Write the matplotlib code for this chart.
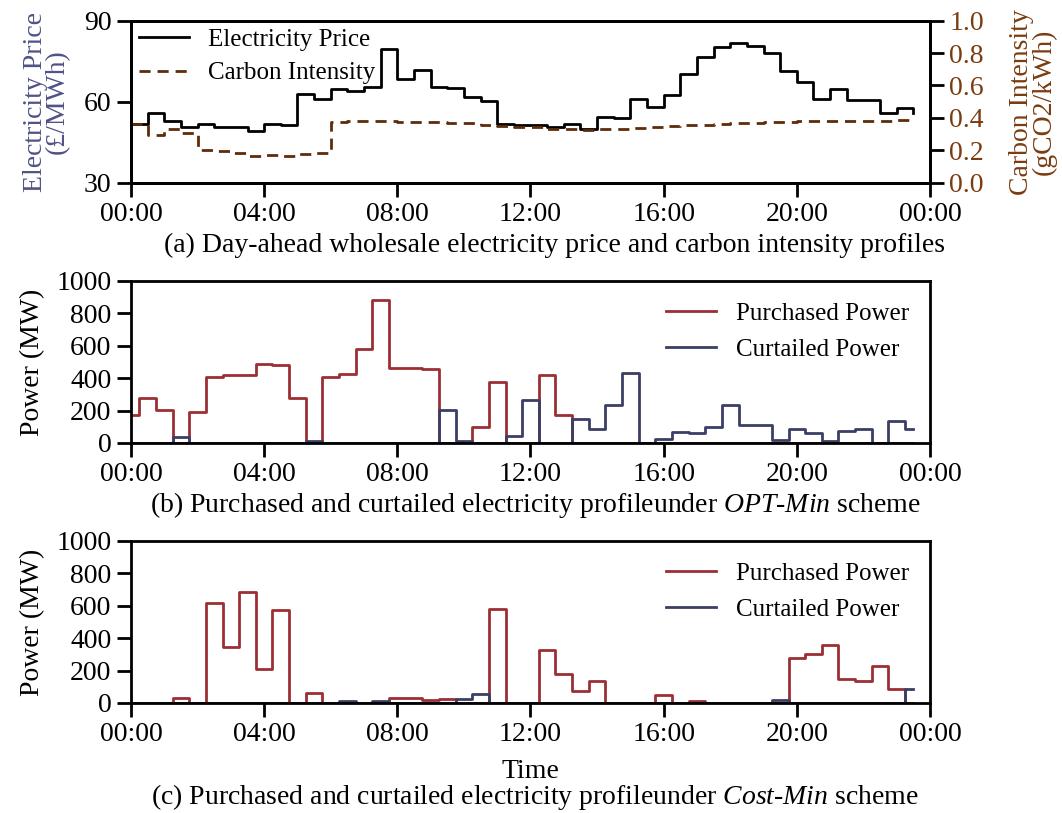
import numpy as np
import matplotlib.pyplot as plt

plt.rcParams['font.family'] = 'Liberation Serif'
plt.rcParams['mathtext.fontset'] = 'custom'
plt.rcParams['mathtext.rm'] = 'Liberation Serif'
plt.rcParams['mathtext.it'] = 'Liberation Serif:italic'

# half-hourly time steps over one day (hours)
hours = np.arange(48) * 0.5

# day-ahead wholesale price (GBP/MWh) and grid carbon intensity (kgCO2/kWh)
price = [51.7, 55.7, 52.7, 50.7, 51.7, 50.7, 50.7, 49.3, 51.7, 51.5,
         62.8, 60.9, 64.8, 64.1, 65.6, 79.6, 68.3, 71.7, 65.3, 65.1,
         61.9, 60.4, 51.7, 51.5, 51.2, 50.7, 51.7, 49.8, 54.4, 54.0,
         60.9, 58.1, 62.3, 70.2, 76.4, 80.4, 81.9, 80.6, 78.1, 71.2,
         67.3, 60.9, 64.6, 60.6, 60.6, 55.9, 57.7, 55.7]
carbon = [0.362, 0.292, 0.329, 0.305, 0.202, 0.198, 0.181, 0.165, 0.169, 0.165,
          0.177, 0.181, 0.374, 0.379, 0.379, 0.379, 0.374, 0.374, 0.374, 0.370,
          0.366, 0.354, 0.350, 0.346, 0.342, 0.333, 0.329, 0.325, 0.329, 0.329,
          0.337, 0.346, 0.350, 0.354, 0.358, 0.362, 0.366, 0.370, 0.374, 0.374,
          0.379, 0.379, 0.383, 0.383, 0.383, 0.383, 0.387, 0.387]

# OPT-Min scheme (MW)
opt_purchased = [171, 276, 204, 0, 191, 409, 422, 422, 488, 484,
                 276, 0, 405, 426, 578, 883, 463, 463, 455, 0,
                 0, 101, 377, 0, 0, 418, 175, 0, 0, 0,
                 0, 0, 0, 0, 0, 0, 0, 0, 0, 0,
                 0, 0, 0, 0, 0, 0, 0, 0]
opt_curtailed = [0, 0, 0, 39, 0, 0, 0, 0, 0, 0,
                 0, 10, 0, 0, 0, 0, 0, 0, 0, 204,
                 14, 0, 0, 43, 265, 0, 0, 150, 84, 233,
                 434, 0, 23, 68, 60, 101, 237, 109, 113, 19,
                 88, 60, 10, 76, 88, 0, 138, 88]

# Cost-Min scheme (MW)
cost_purchased = [0, 0, 0, 29, 0, 615, 348, 685, 212, 574,
                  0, 60, 0, 0, 0, 0, 33, 33, 19, 25,
                  0, 0, 578, 0, 0, 327, 179, 76, 138, 0,
                  0, 0, 47, 0, 10, 0, 0, 0, 0, 0,
                  278, 302, 356, 146, 134, 228, 84, 0]
cost_curtailed = [0, 0, 0, 0, 0, 0, 0, 0, 0, 0,
                  0, 0, 0, 12, 0, 12, 0, 0, 0, 0,
                  25, 56, 0, 0, 0, 0, 0, 0, 0, 0,
                  0, 0, 0, 0, 0, 0, 0, 0, 0, 19,
                  0, 0, 0, 0, 0, 0, 0, 88]

time_ticks = [0, 4, 8, 12, 16, 20, 24]
time_labels = ['00:00', '04:00', '08:00', '12:00', '16:00', '20:00', '00:00']

RED = '#9b2f33'
NAVY = '#3b3f66'
BROWN = '#5e2c0a'
LABEL_BLUE = '#4f5285'
LABEL_BROWN = '#7a3c10'
FS = 20
LEG_FS = 18

W, H = 1062, 813


def panel(fig, top, bottom):
    return fig.add_axes([131 / W, 1 - bottom / H, 799 / W, (bottom - top) / H])


def style_axis(ax):
    for s in ax.spines.values():
        s.set_linewidth(2)
    ax.tick_params(direction='out', length=10, width=2, labelsize=FS, pad=4)
    ax.set_xlim(0, 24)
    ax.set_xticks(time_ticks)
    ax.set_xticklabels(time_labels)


fig = plt.figure(figsize=(W / 100, H / 100), dpi=100)

# (a) price and carbon intensity
ax1 = panel(fig, 20.7, 182.7)
style_axis(ax1)
l1, = ax1.plot(hours, price, drawstyle='steps-post', color='black', lw=2,
               label='Electricity Price')
ax1.set_ylim(30, 90)
ax1.set_yticks([30, 60, 90])
ax1.set_ylabel('Electricity Price\n(£/MWh)', color=LABEL_BLUE, fontsize=FS,
               linespacing=0.85, labelpad=10)

ax2 = ax1.twinx()
for s in ax2.spines.values():
    s.set_linewidth(2)
l2, = ax2.plot(hours, carbon, drawstyle='steps-post', color=BROWN, lw=2,
               ls=(0, (4, 2.5)), label='Carbon Intensity')
ax2.set_ylim(0, 1.0)
ax2.set_yticks(np.arange(0, 1.01, 0.2))
ax2.set_yticklabels(['0.0', '0.2', '0.4', '0.6', '0.8', '1.0'])
ax2.tick_params(direction='out', length=10, width=2, labelsize=FS, pad=4,
                labelcolor=LABEL_BROWN)
ax2.set_ylabel('Carbon Intensity\n(gCO2/kWh)', color=LABEL_BROWN, fontsize=FS,
               linespacing=0.85, labelpad=18)
ax1.legend(handles=[l1, l2], loc='upper left', frameon=False, fontsize=LEG_FS,
           handlelength=2.0, borderaxespad=0.0, borderpad=0.3,
           labelspacing=0.45, handletextpad=0.8)

# (b) OPT-Min and (c) Cost-Min schedules
for top, bottom, purchased, curtailed in [(281, 443, opt_purchased, opt_curtailed),
                                          (541, 703, cost_purchased, cost_curtailed)]:
    ax = panel(fig, top, bottom)
    style_axis(ax)
    ax.plot(hours, purchased, drawstyle='steps-mid', color=RED, lw=2,
            label='Purchased Power')
    ax.plot(hours, curtailed, drawstyle='steps-mid', color=NAVY, lw=2,
            label='Curtailed Power')
    ax.set_ylim(0, 1000)
    ax.set_yticks(range(0, 1001, 200))
    ax.set_ylabel('Power (MW)', fontsize=FS, labelpad=8)
    ax.legend(loc='upper right', frameon=False, fontsize=LEG_FS, handlelength=2.0,
              borderaxespad=0.45, labelspacing=0.55, handletextpad=0.8)
    last_ax = ax

last_ax.set_xlabel('Time', fontsize=FS, labelpad=8)

fig.text(555 / W, 1 - 245 / H,
         '(a) Day-ahead wholesale electricity price and carbon intensity profiles',
         ha='center', va='center', fontsize=FS)
fig.text(535 / W, 1 - 505 / H,
         r'(b) Purchased and curtailed electricity profileunder $OPT$-$Min$ scheme',
         ha='center', va='center', fontsize=FS)
fig.text(535 / W, 1 - 797 / H,
         r'(c) Purchased and curtailed electricity profileunder $Cost$-$Min$ scheme',
         ha='center', va='center', fontsize=FS)

fig.savefig('out.png', dpi=100)
